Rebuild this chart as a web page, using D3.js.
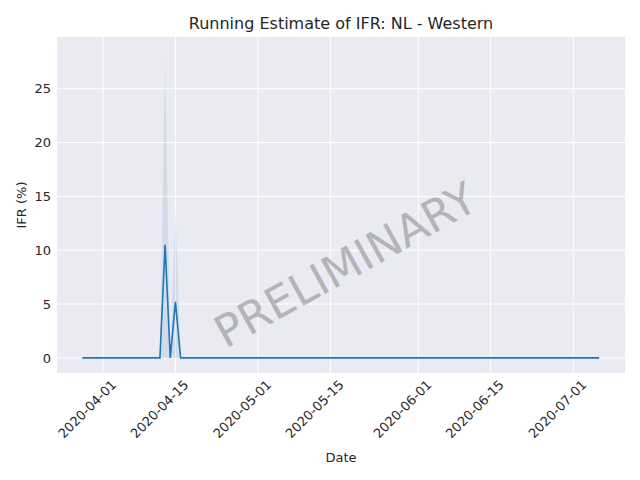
<!DOCTYPE html><html><head><script src="https://cdn.jsdelivr.net/npm/d3@7"></script>
<style>body{margin:0}text{font-family:"DejaVu Sans"}</style></head><body><svg id="c" width="640" height="480"></svg>
<script>
const startDate="2020-03-28", endDate="2020-07-06";
const spikeDates=["2020-04-12","2020-04-13","2020-04-14","2020-04-15","2020-04-16"];
const spikeVals=[0,10.5,0,5.2,0];
const spikeUpper=[0,27.5,0,13.8,0];
const spikeLower=[0,0,0,0,0];
const xTicks=["2020-04-01","2020-04-15","2020-05-01","2020-05-15","2020-06-01","2020-06-15","2020-07-01"];
const yTicks=[0,5,10,15,20,25];
const p=d3.timeParse("%Y-%m-%d");
const data=d3.timeDay.range(p(startDate),d3.timeDay.offset(p(endDate),1)).map(d=>{
 const i=spikeDates.findIndex(s=>+p(s)==+d);
 return {d,v:i<0?0:spikeVals[i],hi:i<0?0:spikeUpper[i],lo:i<0?0:spikeLower[i]};});
const L=57,R=625,T=37,B=373;
const x=d3.scaleTime().domain([new Date(2020,2,23,2),new Date(2020,6,11,0)]).range([L,R]);
const y=d3.scaleLinear().domain([-1.4,29.8]).range([B,T]);
const s=d3.select("#c");
s.append("rect").attr("x",L).attr("y",T).attr("width",R-L).attr("height",B-T).attr("fill","#eaeaf2");
const g=s.append("g");
xTicks.forEach(t=>g.append("line").attr("x1",x(p(t))).attr("x2",x(p(t))).attr("y1",T).attr("y2",B).attr("stroke","#fff"));
yTicks.forEach(t=>g.append("line").attr("x1",L).attr("x2",R).attr("y1",y(t)).attr("y2",y(t)).attr("stroke","#fff"));
s.append("path").datum(data).attr("d",d3.area().x(d=>x(d.d)).y0(d=>y(d.lo)).y1(d=>y(d.hi))).attr("fill","#1f77b4").attr("opacity",0.12);
s.append("path").datum(data).attr("d",d3.line().x(d=>x(d.d)).y(d=>y(d.v))).attr("fill","none").attr("stroke","#1f77b4").attr("stroke-width",1.6);
const ax=s.append("g").attr("transform",`translate(0,${B})`).call(d3.axisBottom(x).tickValues(xTicks.map(p)).tickFormat(d3.timeFormat("%Y-%m-%d")).tickSize(0));
ax.select(".domain").remove();
ax.selectAll("text").attr("font-size",13).attr("fill","#262626").attr("text-anchor","end").attr("transform","translate(5,4) rotate(-45)").attr("dy","0.7em").attr("dx","0");
const ay=s.append("g").attr("transform",`translate(${L},0)`).call(d3.axisLeft(y).tickValues(yTicks).tickSize(0).tickPadding(6));
ay.select(".domain").remove();
ay.selectAll("text").attr("font-size",13).attr("fill","#262626");
s.append("text").attr("x",341).attr("y",29).attr("text-anchor","middle").attr("font-size",16).attr("fill","#262626").text("Running Estimate of IFR: NL - Western");
s.append("text").attr("x",341).attr("y",462).attr("text-anchor","middle").attr("font-size",13).attr("fill","#262626").text("Date");
s.append("text").attr("transform","translate(26,205) rotate(-90)").attr("text-anchor","middle").attr("font-size",13).attr("fill","#262626").text("IFR (%)");
s.append("text").attr("transform","translate(347,268) rotate(-29)").attr("text-anchor","middle").attr("dominant-baseline","middle").attr("font-size",44).attr("fill","#808080").attr("opacity",0.5).text("PRELIMINARY");
</script></body></html>
